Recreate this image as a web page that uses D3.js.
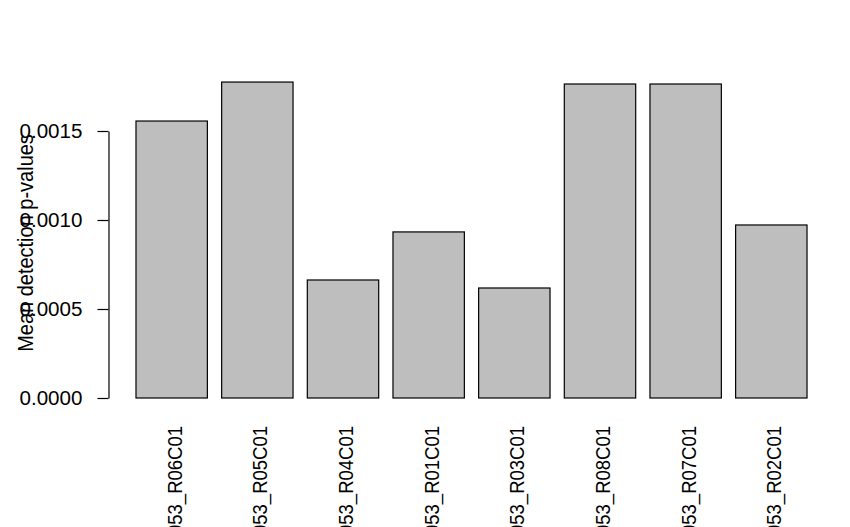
<!DOCTYPE html>
<html>
<head>
<meta charset="utf-8">
<script src="https://cdn.jsdelivr.net/npm/d3@7"></script>
<style>
  html, body { margin: 0; padding: 0; background: #fff; }
  svg { display: block; }
  text { font-family: "Liberation Sans", Arial, sans-serif; fill: #000; }
</style>
</head>
<body>
<svg id="chart" width="850" height="527"></svg>
<script>
const categories = ["0053_R06C01", "0053_R05C01", "0053_R04C01", "0053_R01C01",
                    "0053_R03C01", "0053_R08C01", "0053_R07C01", "0053_R02C01"];
const values = [0.001556, 0.001775, 0.000663, 0.000933, 0.000618, 0.001764, 0.001764, 0.000972];
const yTicks = [0, 0.0005, 0.0010, 0.0015];
const yTickLabels = ["0.0000", "0.0005", "0.0010", "0.0015"];
const yLabel = "Mean detection p-values";

const svg = d3.select("#chart");

const x = d3.scaleBand()
  .domain(categories)
  .range([128.85, 814.15])
  .paddingInner(1 / 6)
  .paddingOuter(1 / 12);

const y = d3.scaleLinear().domain([0, 0.0015]).range([398, 131]);

// bars
svg.append("g").selectAll("rect")
  .data(values)
  .join("rect")
  .attr("x", (d, i) => x(categories[i]))
  .attr("width", x.bandwidth())
  .attr("y", d => y(d))
  .attr("height", d => y(0) - y(d))
  .attr("fill", "#bebebe")
  .attr("stroke", "#000")
  .attr("stroke-width", 1.2);

// y axis
const yAxis = d3.axisLeft(y)
  .tickValues(yTicks)
  .tickFormat((d, i) => yTickLabels[i])
  .tickSize(11)
  .tickSizeOuter(0)
  .tickPadding(15);

const gy = svg.append("g")
  .attr("transform", "translate(108.5,0)")
  .call(yAxis);
gy.select(".domain").attr("stroke", "#000").attr("stroke-width", 1.2);
gy.selectAll(".tick line").attr("stroke", "#000").attr("stroke-width", 1.2);
gy.selectAll(".tick text")
  .attr("font-size", 20)
  .attr("font-family", "Liberation Sans, Arial, sans-serif")
  .attr("fill", "#000")
  .attr("x", 0)
  .attr("transform", "translate(-26,0) scale(1.03,1)");

// x labels (las = 2, vertical)
svg.append("g").selectAll("text")
  .data(categories)
  .join("text")
  .attr("transform", d => `translate(${x(d) + x.bandwidth() / 2 + 3},426) rotate(-90) scale(1,1.1)`)
  .attr("text-anchor", "end")
  .attr("dy", "0.35em")
  .attr("font-size", 18.5)
  .text(d => d);

// y axis title
svg.append("text")
  .attr("transform", "translate(25,243) rotate(-90) scale(1,1.08)")
  .attr("text-anchor", "middle")
  .attr("dy", "0.35em")
  .attr("font-size", 20)
  .text(yLabel);
</script>
</body>
</html>
